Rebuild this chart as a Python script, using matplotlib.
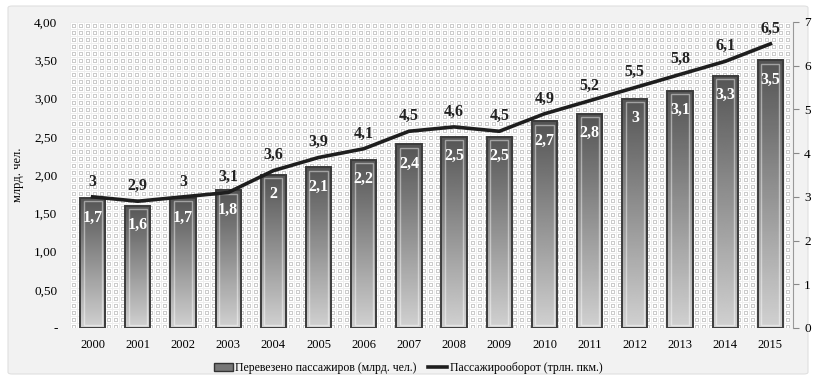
import numpy as np
import matplotlib
matplotlib.use("Agg")
import matplotlib.pyplot as plt
from matplotlib.patches import FancyBboxPatch, Rectangle
from matplotlib.lines import Line2D

years = ["2000", "2001", "2002", "2003", "2004", "2005", "2006", "2007",
         "2008", "2009", "2010", "2011", "2012", "2013", "2014", "2015"]
passengers = [1.7, 1.6, 1.7, 1.8, 2.0, 2.1, 2.2, 2.4, 2.5, 2.5, 2.7, 2.8, 3.0, 3.1, 3.3, 3.5]
turnover = [3.0, 2.9, 3.0, 3.1, 3.6, 3.9, 4.1, 4.5, 4.6, 4.5, 4.9, 5.2, 5.5, 5.8, 6.1, 6.5]
left_ticks = [0, 0.5, 1.0, 1.5, 2.0, 2.5, 3.0, 3.5, 4.0]
left_ticklabels = ["-", "0,50", "1,00", "1,50", "2,00", "2,50", "3,00", "3,50", "4,00"]
right_ticks = [0, 1, 2, 3, 4, 5, 6, 7]

def fmt(v):
    return ("%g" % v).replace(".", ",")

plt.rcParams['font.family'] = ['Liberation Serif', 'DejaVu Serif']

W, H = 816, 380
fig = plt.figure(figsize=(W / 100, H / 100), dpi=100)
fig.patch.set_facecolor("white")
bg = FancyBboxPatch((8 / W, 6 / H), (W - 16) / W, (H - 12) / H,
                    boxstyle="round,pad=0,rounding_size=0.005",
                    transform=fig.transFigure, facecolor="#f2f2f2",
                    edgecolor="#e0e0e0", linewidth=0.8, zorder=-10)
fig.patches.append(bg)

rect = [70 / W, 52 / H, (793 - 70) / W, 306 / H]

# patterned background axes
axbg = fig.add_axes([70 / W, 52 / H, (790 - 70) / W, 306 / H], zorder=0)
pw, ph = 720, 306
pat = np.ones((ph, pw))
yy, xx = np.mgrid[0:ph, 0:pw]
cy = yy % 7
cx = xx % 7
pat[(cy == 0) | (cx == 0)] = 0.93
sq = (((cy == 2) | (cy == 5)) & (cx >= 2) & (cx <= 5)) | (((cx == 2) | (cx == 5)) & (cy >= 2) & (cy <= 5))
pat[sq] = 0.80
axbg.imshow(pat, cmap="gray", vmin=0, vmax=1, aspect="auto", interpolation="bilinear")
axbg.set_axis_off()

ax = fig.add_axes(rect, zorder=1)
ax.set_facecolor("none")

x = np.arange(len(years))
width = 0.56

grad = np.linspace(0.82, 0.33, 256).reshape(-1, 1)
for xi, v in zip(x, passengers):
    x0, x1 = xi - width / 2, xi + width / 2
    im = ax.imshow(grad, cmap="gray", vmin=0, vmax=1, extent=[x0, x1, 0, v],
                   origin="lower", aspect="auto", zorder=2)
    r = Rectangle((x0, 0), width, v, facecolor="none", edgecolor="#3c3c3c", linewidth=1.4, zorder=3)
    ax.add_patch(r)
    im.set_clip_path(r)
    inner = Rectangle((x0 + 0.08, 0.045), width - 0.16, v - 0.09, facecolor="none",
                      edgecolor=(1, 1, 1, 0.45), linewidth=1.0, zorder=3)
    ax.add_patch(inner)
    ax.annotate(fmt(v), (xi, v), xytext=(0, -14), textcoords="offset points",
                ha="center", va="center", color="white", fontsize=11.5,
                fontweight="bold", zorder=5)

ax.set_xlim(-0.5, len(years) - 0.5)
ax.set_ylim(0, 4)
ax.set_xticks(x)
ax.set_xticklabels(years, fontsize=9)
ax.set_yticks(left_ticks)
ax.set_yticklabels(left_ticklabels, fontsize=9.5)
ax.tick_params(axis="y", length=0, pad=9)
ax.tick_params(axis="x", length=0, pad=8)
for s in ax.spines.values():
    s.set_visible(False)
ax.set_ylabel("млрд. чел.", fontsize=9, labelpad=7)

ax2 = ax.twinx()
ax2.set_ylim(0, 7)
ax2.set_yticks(right_ticks)
ax2.set_yticklabels([str(t) for t in right_ticks], fontsize=9.5)
ax2.tick_params(axis="y", length=4, color="#888888", pad=4)
for k, s in ax2.spines.items():
    s.set_visible(k == "right")
ax2.spines["right"].set_color("#999999")
ax2.plot(x, turnover, color="#1e1e1e", linewidth=2.6, zorder=4)
for xi, v in zip(x, turnover):
    ax2.annotate(fmt(v), (xi, v), xytext=(0, 11), textcoords="offset points",
                 ha="center", va="center", color="#222222", fontsize=11.5,
                 fontweight="bold")

handles = [Rectangle((0, 0), 1, 1, facecolor="#777777", edgecolor="#333333"),
           Line2D([0], [0], color="#1e1e1e", linewidth=2.6)]
labels = ["Перевезено пассажиров (млрд. чел.)", "Пассажирооборот (трлн. пкм.)"]
fig.legend(handles, labels, loc="center", bbox_to_anchor=(0.5, 12 / H),
           ncol=2, frameon=False, fontsize=8.5, handlelength=1.6,
           handletextpad=0.2, columnspacing=1.0)

fig.savefig("out.png", dpi=100)
